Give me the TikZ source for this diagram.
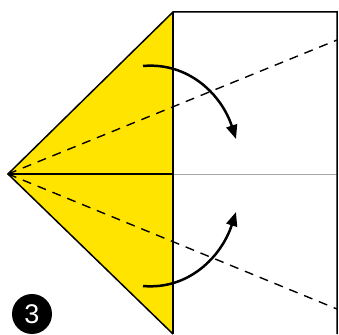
\documentclass[tikz,border=0pt]{standalone}
\usepackage{fontspec}
\setsansfont{Liberation Sans}
\usetikzlibrary{arrows.meta}
\definecolor{paperyellow}{RGB}{255,228,0}
\begin{document}
\begin{tikzpicture}[x=1pt, y=1pt,
    edge/.style={draw=black, line width=1.5pt},
    foldline/.style={draw=black, line width=1.4pt, dash pattern=on 9pt off 7pt},
    turn/.style={draw=black, line width=2.5pt, -{Triangle[length=14pt,width=11pt]}}]
    \path[use as bounding box] (0,0) rectangle (339,334);
    \coordinate (T) at (8,160);
    \coordinate (V) at (173,322);
    \coordinate (B) at (173,0);
    \coordinate (M) at (173,160);
    \coordinate (R) at (337,322);
    \coordinate (RB) at (337,0);
    \coordinate (RM) at (337,160);
    \coordinate (DU) at (337,294);
    \coordinate (DL) at (337,25);

    % Yellow flap and paper outline
    \fill[paperyellow] (T) -- (V) -- (B) -- cycle;
    \draw[draw=black!35, line width=0.9pt] (M) -- (RM);
    \draw[edge] (B) -- (T) -- (V) -- (R) -- (RB);
    \draw[edge] (V) -- (B);
    \draw[edge] (T) -- (M);
    % Fold lines
    \draw[foldline] (T) -- (DU);
    \draw[foldline] (T) -- (DL);
    % Fold arrows
    \coordinate (a1) at (143,268);
    \coordinate (a2) at (236,195);
    \coordinate (b1) at (143,48);
    \coordinate (b2) at (236,122);
    \draw[turn] (a1) to[out=5, in=108] (a2);
    \draw[turn] (b1) to[out=-5, in=-108] (b2);
    % Step number
    \node[circle, fill=black, minimum size=40pt, inner sep=0pt, text=white,
        font=\sffamily\fontsize{27}{27}\selectfont] (num) at (32,20) {3};
\end{tikzpicture}
\end{document}
